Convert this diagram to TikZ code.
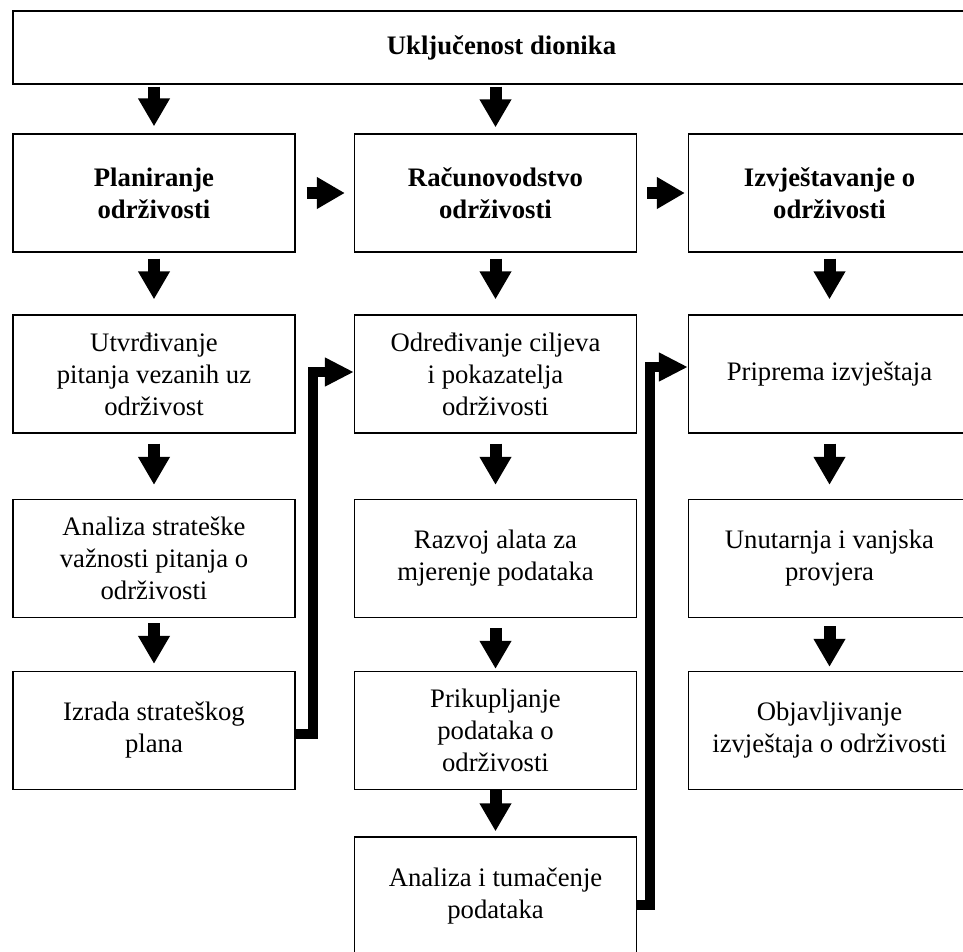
\documentclass[tikz,border=0pt]{standalone}
\usepackage{fontspec}
\setmainfont{Liberation Serif}
\usetikzlibrary{arrows.meta}

\begin{document}
\begin{tikzpicture}[x=1pt,y=-1pt,
	box/.style={draw, line width=1.3pt, minimum width=282pt, minimum height=118pt, inner sep=0pt, align=center, font=\fontsize{26.7}{32}\selectfont},
	head/.style={box, font=\fontsize{26.7}{32}\selectfont\bfseries},
	flow/.style={line width=12pt, -{Triangle[length=28pt,width=30pt]}},
	backflow/.style={line width=10pt, -{Triangle[length=29pt,width=27pt]}}]
				\useasboundingbox (0,0) rectangle (963,951);
				\clip (0,0) rectangle (963,951);
				\node[head, minimum width=977pt, minimum height=73pt] (dionici) at (501.5,47.5) {Uključenost dionika};
				\node[head] (plan) at (154,193) {Planiranje\\održivosti};
				\node[head] (racun) at (495.5,193) {Računovodstvo\\održivosti};
				\node[head] (izvj) at (829.5,193) {Izvještavanje o\\održivosti};
				\node[box] (utvr) at (154,374) {Utvrđivanje\\pitanja vezanih uz\\održivost};
				\node[box] (odred) at (495.5,374) {Određivanje ciljeva\\i pokazatelja\\održivosti};
				\node[box] (pripr) at (829.5,374) {Priprema izvještaja};
				\node[box] (anstrat) at (154,558.5) {Analiza strateške\\važnosti pitanja o\\održivosti};
				\node[box] (razvoj) at (495.5,558.5) {Razvoj alata za\\mjerenje podataka};
				\node[box] (provj) at (829.5,558.5) {Unutarnja i vanjska\\provjera};
				\node[box] (izrada) at (154,730.5) {Izrada strateškog\\plana};
				\node[box] (prikup) at (495.5,730.5) {Prikupljanje\\podataka o\\održivosti};
				\node[box] (objava) at (829.5,730.5) {Objavljivanje\\izvještaja o održivosti};
				\node[box] (tumac) at (495.5,896) {Analiza i tumačenje\\podataka};
				\draw[flow, shorten <=2pt, shorten >=7pt] (dionici.south -| plan.north) -- (plan.north);
				\draw[flow, shorten <=2pt, shorten >=6pt] (dionici.south -| racun.north) -- (racun.north);
				\draw[flow, shorten <=11pt, shorten >=9pt] (plan) -- (racun);
				\draw[flow, shorten <=10pt, shorten >=3pt] (racun) -- (izvj);
				\foreach \a/\b/\s/\e in {plan/utvr/6/15, racun/odred/6/15, izvj/pripr/6/15, utvr/anstrat/10/14, odred/razvoj/10/14, pripr/provj/10/14, anstrat/izrada/5/7, razvoj/prikup/10/2, provj/objava/8/4, prikup/tumac/0/5}
					\draw[flow, shorten <=\s pt, shorten >=\e pt] (\a) -- (\b);
				\draw[backflow] ([yshift=-3.5pt]izrada.east) -- ++(17,0) |- ([yshift=2pt]odred.west);
				\draw[backflow] ([yshift=-9pt]tumac.east) -- ++(12.5,0) |- ([yshift=7pt]pripr.west);
\end{tikzpicture}
\end{document}
